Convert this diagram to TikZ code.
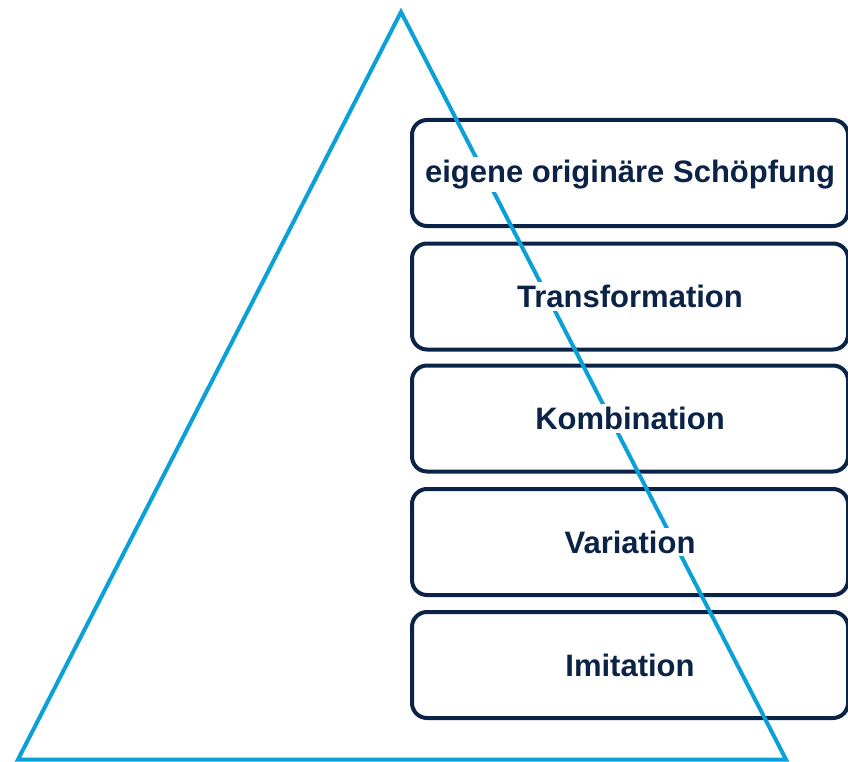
\documentclass[tikz,border=0pt]{standalone}
\usepackage{fontspec}
\setmainfont{Liberation Sans}
\definecolor{navy}{HTML}{0B2346}
\definecolor{skyb}{HTML}{0AA0D8}
\begin{document}
\begin{tikzpicture}[x=1pt,y=-1pt,
  levelbox/.style={draw=navy,line width=4pt,rounded corners=15pt,minimum width=436pt,minimum height=106pt,inner sep=0pt},
  leveltext/.style={fill=white,text=navy,font=\fontsize{31}{35}\selectfont\bfseries,inner sep=3pt}]
\useasboundingbox (0,0) rectangle (848,762);
\clip (0,0) rectangle (848,762);
\foreach \n/\y in {b1/173,b2/296.5,b3/418.5,b4/542,b5/665}{
  \node[levelbox] (\n) at (630,\y) {};
}
\coordinate (apex) at (401,12);
\coordinate (bl) at (18,759.5);
\coordinate (br) at (786,759.5);
\draw[skyb,line width=4pt,line join=miter] (apex) -- (br) -- (bl) -- cycle;
\node[leveltext] (t1) at ([yshift=-1.5pt]b1.center) {eigene originäre Schöpfung};
\node[leveltext] (t2) at (b2.center) {Transformation};
\node[leveltext] (t3) at (b3.center) {Kombination};
\node[leveltext] (t4) at (b4.center) {Variation};
\node[leveltext] (t5) at (b5.center) {Imitation};
\end{tikzpicture}
\end{document}
